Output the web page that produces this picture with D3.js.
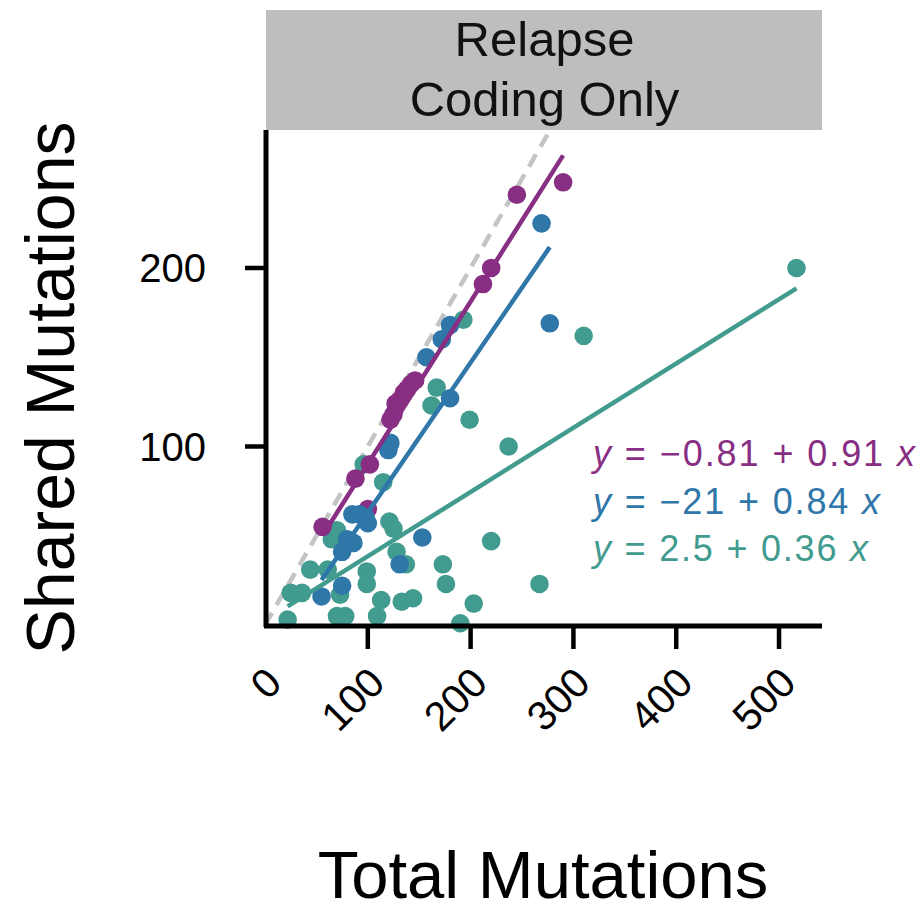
<!DOCTYPE html>
<html>
<head>
<meta charset="utf-8">
<script src="https://cdn.jsdelivr.net/npm/d3@7"></script>
<style>
  html, body { margin: 0; padding: 0; background: #fff; }
  svg { display: block; }
  text { font-family: "Liberation Sans", Arial, sans-serif; }
</style>
</head>
<body>
<svg id="chart" width="924" height="916"></svg>
<script>
// ---- data ----
const purpleX = [56, 88, 102, 100, 122, 125, 127, 131, 135, 138, 142, 146, 212, 220, 245, 290];
const purpleY = [55, 82, 90, 65, 115, 118, 124, 126, 130, 132, 135, 137, 191, 200, 241, 248];

const blueX = [55, 75, 75, 80, 86, 85, 92, 98, 100, 120, 122, 131, 153, 157, 172, 180, 180, 269, 277];
const blueY = [16, 22, 41, 48, 46, 62, 62, 60, 57, 98, 102, 34, 49, 150, 160, 168, 127, 225, 169];

const tealX = [22, 25, 36, 44, 61, 65, 70, 73, 70, 78, 96, 99, 99, 109, 115, 113, 121, 125, 128, 133, 137, 144, 162, 167, 173, 176, 190, 193, 199, 203, 220, 237, 267, 310, 517];
const tealY = [3, 18, 18, 31, 31, 48, 53, 17, 5, 5, 90, 30, 23, 5, 80, 14, 58, 54, 41, 13, 34, 15, 123, 133, 34, 23, 1, 171, 115, 12, 47, 100, 23, 162, 200];

const fitIntercepts = [-0.81, -21, 2.5];
const fitSlopes = [0.91, 0.84, 0.36];
const fitLabels = ["\u22120.81 + 0.91", "\u221221 + 0.84", "2.5 + 0.36"];
const seriesColors = ["#882e83", "#2f76a9", "#429b8f"];

const xTicks = [0, 100, 200, 300, 400, 500];
const yTicks = [100, 200];
const stripLines = ["Relapse", "Coding Only"];
const xTitle = "Total Mutations";
const yTitle = "Shared Mutations";

// ---- chart ----
const svg = d3.select("#chart");
const pLeft = 265, pRight = 822, pTop = 130, pBottom = 625;
const x = d3.scaleLinear().domain([0, 541.8]).range([pLeft, pRight]);
const y = d3.scaleLinear().domain([0, 277.3]).range([pBottom, pTop]);

const series = [
  { xs: purpleX, ys: purpleY },
  { xs: blueX, ys: blueY },
  { xs: tealX, ys: tealY }
];

// strip
svg.append("rect").attr("x", pLeft + 1).attr("y", 10).attr("width", pRight - pLeft - 1).attr("height", pTop - 10)
  .attr("fill", "#bebebe");
svg.selectAll("text.strip").data(stripLines).join("text")
  .attr("class", "strip")
  .attr("x", (pLeft + pRight) / 2 + 1)
  .attr("y", (d, i) => 56 + i * 60)
  .attr("text-anchor", "middle")
  .attr("font-size", 49)
  .attr("fill", "#111")
  .text(d => d);

// identity dashed line
const yMax = y.domain()[1];
svg.append("line")
  .attr("x1", x(0)).attr("y1", y(0)).attr("x2", x(yMax)).attr("y2", y(yMax))
  .attr("stroke", "#c4c4c4").attr("stroke-width", 4.5).attr("stroke-dasharray", "14,9");

// points: teal, purple, blue
const drawOrder = [2, 0, 1];
drawOrder.forEach(k => {
  const s = series[k];
  const pts = s.xs.map((v, i) => [v, s.ys[i]]);
  svg.append("g").selectAll("circle").data(pts).join("circle")
    .attr("cx", d => x(d[0])).attr("cy", d => y(d[1])).attr("r", 9.3)
    .attr("fill", seriesColors[k]);
});

// fit lines
drawOrder.forEach(k => {
  const s = series[k];
  const [x0, x1] = d3.extent(s.xs);
  const f = v => fitIntercepts[k] + fitSlopes[k] * v;
  svg.append("line")
    .attr("x1", x(x0)).attr("y1", y(f(x0)))
    .attr("x2", x(x1)).attr("y2", y(f(x1)))
    .attr("stroke", seriesColors[k]).attr("stroke-width", 4.5);
});

// axes lines
svg.append("line").attr("x1", pLeft + 1).attr("x2", pLeft + 1).attr("y1", pTop).attr("y2", pBottom + 2)
  .attr("stroke", "#000").attr("stroke-width", 5);
svg.append("line").attr("x1", pLeft - 1).attr("x2", pRight).attr("y1", pBottom + 1).attr("y2", pBottom + 1)
  .attr("stroke", "#000").attr("stroke-width", 5);

// x ticks
const xg = svg.append("g");
xg.selectAll("line").data(xTicks.filter(t => t > 0)).join("line")
  .attr("x1", d => x(d)).attr("x2", d => x(d)).attr("y1", pBottom + 1).attr("y2", pBottom + 24)
  .attr("stroke", "#000").attr("stroke-width", 4.5);
xg.selectAll("text").data(xTicks).join("text")
  .attr("transform", d => `translate(${x(d) + 19},${685}) rotate(-45)`)
  .attr("text-anchor", "end")
  .attr("font-size", 41)
  .attr("fill", "#000")
  .text(d => d);

// y ticks
const yg = svg.append("g");
yg.selectAll("line").data(yTicks).join("line")
  .attr("x1", pLeft - 20).attr("x2", pLeft + 1).attr("y1", d => y(d)).attr("y2", d => y(d))
  .attr("stroke", "#000").attr("stroke-width", 4.5);
yg.selectAll("text").data(yTicks).join("text")
  .attr("x", 206).attr("y", d => y(d)).attr("dy", "0.36em")
  .attr("text-anchor", "end")
  .attr("font-size", 40)
  .attr("fill", "#000")
  .text(d => d);

// titles
svg.append("text").attr("x", 543).attr("y", 898).attr("text-anchor", "middle")
  .attr("font-size", 67).attr("fill", "#000").text(xTitle);
svg.append("text").attr("transform", "translate(74,388) rotate(-90)").attr("text-anchor", "middle")
  .attr("font-size", 68).attr("fill", "#000").text(yTitle);

// equations
const eqWidths = [322, 287, 275];
fitLabels.forEach((lab, k) => {
  const t = svg.append("text").attr("x", 593).attr("y", 466 + k * 47.5)
    .attr("font-size", 36).attr("fill", seriesColors[k])
    .attr("textLength", eqWidths[k]).attr("lengthAdjust", "spacing");
  t.append("tspan").attr("font-style", "italic").text("y");
  t.append("tspan").text(" = " + lab + " ");
  t.append("tspan").attr("font-style", "italic").text("x");
});
</script>
</body>
</html>
